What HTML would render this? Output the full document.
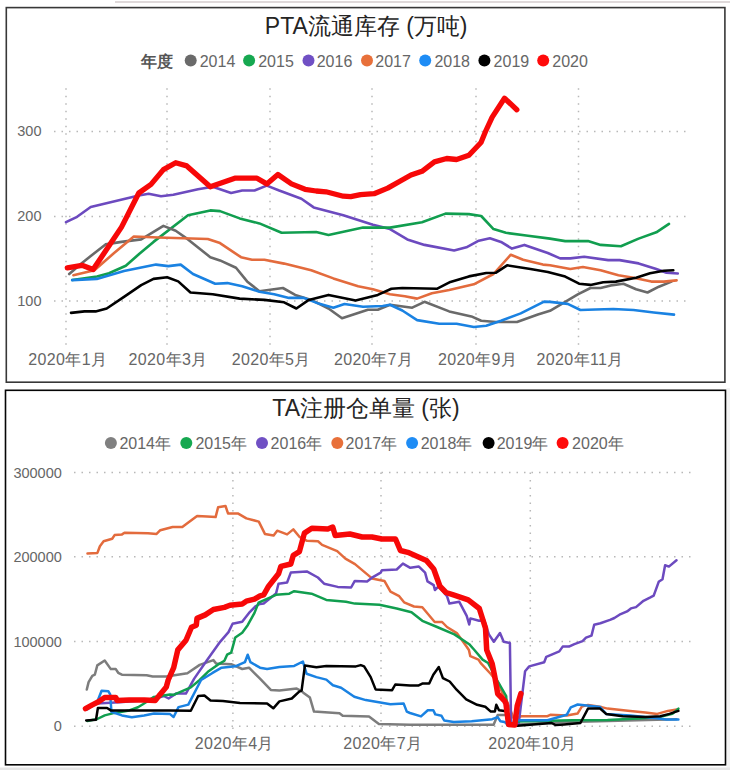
<!DOCTYPE html>
<html><head><meta charset="utf-8"><style>
html,body{margin:0;padding:0;background:#fff;width:730px;height:770px;overflow:hidden}
svg{display:block}
</style></head><body>
<svg width="730" height="770" viewBox="0 0 730 770">
<rect x="115" y="1.2" width="615" height="1.6" fill="#d8d0d2"/>
<rect x="6.3" y="7.6" width="718.6" height="374.6" fill="#fff" stroke="#383838" stroke-width="1.6"/>
<rect x="726.6" y="388" width="3.4" height="382" fill="#f3f3f3"/>
<rect x="5.5" y="390.3" width="720" height="374.5" fill="#fff" stroke="#050505" stroke-width="1.6"/>
<rect x="0" y="767.5" width="730" height="3" fill="#e6e6e6"/>
<line x1="54" y1="131.5" x2="688" y2="131.5" stroke="#b8b8b8" stroke-width="1.5" stroke-dasharray="1.5 6.0"/>
<line x1="54" y1="216.5" x2="688" y2="216.5" stroke="#b8b8b8" stroke-width="1.5" stroke-dasharray="1.5 6.0"/>
<line x1="54" y1="301" x2="688" y2="301" stroke="#b8b8b8" stroke-width="1.5" stroke-dasharray="1.5 6.0"/>
<line x1="66" y1="88.2" x2="66" y2="346" stroke="#b8b8b8" stroke-width="1.5" stroke-dasharray="1.5 6.0"/>
<line x1="167" y1="88.2" x2="167" y2="346" stroke="#b8b8b8" stroke-width="1.5" stroke-dasharray="1.5 6.0"/>
<line x1="270" y1="88.2" x2="270" y2="346" stroke="#b8b8b8" stroke-width="1.5" stroke-dasharray="1.5 6.0"/>
<line x1="372" y1="88.2" x2="372" y2="346" stroke="#b8b8b8" stroke-width="1.5" stroke-dasharray="1.5 6.0"/>
<line x1="476" y1="88.2" x2="476" y2="346" stroke="#b8b8b8" stroke-width="1.5" stroke-dasharray="1.5 6.0"/>
<line x1="578.5" y1="88.2" x2="578.5" y2="346" stroke="#b8b8b8" stroke-width="1.5" stroke-dasharray="1.5 6.0"/>
<text x="41.5" y="136.3" text-anchor="end" font-size="14.5" fill="#666" font-family="'Liberation Sans',sans-serif">300</text>
<text x="41.5" y="221.3" text-anchor="end" font-size="14.5" fill="#666" font-family="'Liberation Sans',sans-serif">200</text>
<text x="41.5" y="305.8" text-anchor="end" font-size="14.5" fill="#666" font-family="'Liberation Sans',sans-serif">100</text>
<text x="67.80000000000001" y="364.8" text-anchor="middle" font-size="16" letter-spacing="0.35" fill="#666" font-family="'Liberation Sans',sans-serif">2020年1月</text>
<text x="168.1" y="364.8" text-anchor="middle" font-size="16" letter-spacing="0.35" fill="#666" font-family="'Liberation Sans',sans-serif">2020年3月</text>
<text x="271.2" y="364.8" text-anchor="middle" font-size="16" letter-spacing="0.35" fill="#666" font-family="'Liberation Sans',sans-serif">2020年5月</text>
<text x="373.59999999999997" y="364.8" text-anchor="middle" font-size="16" letter-spacing="0.35" fill="#666" font-family="'Liberation Sans',sans-serif">2020年7月</text>
<text x="477.59999999999997" y="364.8" text-anchor="middle" font-size="16" letter-spacing="0.35" fill="#666" font-family="'Liberation Sans',sans-serif">2020年9月</text>
<text x="580.1" y="364.8" text-anchor="middle" font-size="16" letter-spacing="0.35" fill="#666" font-family="'Liberation Sans',sans-serif">2020年11月</text>
<text x="264.8" y="33.7" font-size="23" fill="#252423" font-family="'Liberation Sans',sans-serif">PTA流通库存 (万吨)</text>
<text x="140.5" y="67" font-size="16" font-weight="bold" fill="#555" font-family="'Liberation Sans',sans-serif">年度</text>
<circle cx="190.7" cy="60.6" r="6" fill="#6a6a6a"/>
<text x="199.7" y="66.8" font-size="16" fill="#666" font-family="'Liberation Sans',sans-serif">2014</text>
<circle cx="249.1" cy="60.6" r="6" fill="#16a850"/>
<text x="258.2" y="66.8" font-size="16" fill="#666" font-family="'Liberation Sans',sans-serif">2015</text>
<circle cx="308.5" cy="60.6" r="6" fill="#7050c4"/>
<text x="316.7" y="66.8" font-size="16" fill="#666" font-family="'Liberation Sans',sans-serif">2016</text>
<circle cx="367" cy="60.6" r="6" fill="#e8703a"/>
<text x="375.3" y="66.8" font-size="16" fill="#666" font-family="'Liberation Sans',sans-serif">2017</text>
<circle cx="425.2" cy="60.6" r="6" fill="#1e8cf5"/>
<text x="434.4" y="66.8" font-size="16" fill="#666" font-family="'Liberation Sans',sans-serif">2018</text>
<circle cx="484.4" cy="60.6" r="6" fill="#000000"/>
<text x="493.59999999999997" y="66.8" font-size="16" fill="#666" font-family="'Liberation Sans',sans-serif">2019</text>
<circle cx="543.2" cy="60.6" r="6" fill="#ff0a0a"/>
<text x="552.3000000000001" y="66.8" font-size="16" fill="#666" font-family="'Liberation Sans',sans-serif">2020</text>
<g fill="none" stroke-linejoin="round" stroke-linecap="round">
<polyline points="66.0,222.2 77.1,216.8 90.7,207.0 138.8,195.5 148.6,193.7 161.0,196.2 173.3,194.7 198.0,189.3 212.7,186.8 231.1,193.0 242.2,190.5 254.5,190.5 266.8,185.6 279.2,190.5 301.4,198.7 313.7,207.4 343.3,215.3 372.9,224.7 390.0,229.1 407.3,239.4 424.5,244.9 454.1,250.5 466.4,247.3 478.8,240.7 489.9,238.2 501.0,241.9 512.0,248.6 524.4,244.9 547.8,253.0 560.1,258.4 570.3,258.4 584.2,256.8 608.2,260.1 619.6,260.1 638.6,263.4 656.3,269.0 666.5,272.8 677.8,273.5" stroke="#6c4abf" stroke-width="2.6"/>
<polyline points="72.2,280.0 97.0,276.5 109.0,273.2 125.8,265.7 140.0,253.2 153.5,241.9 188.0,215.3 210.3,210.4 220.0,211.1 239.7,218.4 259.4,223.4 281.6,232.8 316.2,232.0 328.5,235.0 363.0,227.6 390.0,227.6 422.0,222.2 445.5,213.6 468.9,214.1 481.2,216.0 493.5,229.1 505.9,232.8 528.0,235.7 550.0,238.6 565.2,241.1 588.0,241.1 600.6,244.9 620.9,246.2 638.6,238.6 656.3,232.3 669.0,223.9" stroke="#119e4f" stroke-width="2.6"/>
<polyline points="69.2,274.0 82.0,262.9 105.5,244.4 121.5,241.9 141.2,239.4 163.4,225.9 175.7,230.8 188.0,239.4 210.3,257.2 220.0,260.4 236.0,267.8 247.1,281.4 259.4,291.2 282.9,288.0 295.2,294.9 311.2,299.9 328.5,308.5 342.0,318.3 367.9,309.7 377.8,309.7 390.0,304.8 412.2,307.7 424.5,301.8 449.2,311.4 471.4,316.4 481.2,320.8 496.0,322.0 517.0,322.0 537.9,314.6 550.0,310.8 565.2,301.9 577.8,294.3 590.5,288.0 600.6,288.0 610.8,285.4 623.4,283.7 636.1,289.2 647.5,292.5 658.9,286.7 671.5,281.6" stroke="#6a6a6a" stroke-width="2.6"/>
<polyline points="73.4,275.2 94.4,270.3 114.1,253.0 133.8,236.5 158.5,237.5 183.1,238.2 207.8,239.0 220.0,243.1 241.0,257.2 252.0,259.7 264.4,259.7 284.1,263.6 311.2,270.3 333.4,278.4 358.1,286.3 372.9,289.3 390.0,294.2 404.8,296.2 417.1,298.6 431.9,293.2 449.2,290.0 473.8,284.3 493.5,274.0 510.8,254.7 523.1,259.7 542.9,264.6 550.0,265.2 570.3,269.0 582.9,267.0 600.6,270.3 618.4,275.3 633.5,277.8 651.3,281.6 663.9,281.6 676.6,280.4" stroke="#e36b3d" stroke-width="2.6"/>
<polyline points="72.2,280.1 96.8,278.9 124.0,271.0 156.0,264.6 168.3,266.1 180.7,264.6 193.0,274.0 215.2,283.8 227.4,283.1 242.2,286.3 259.4,291.7 274.2,294.2 289.0,297.9 303.8,297.9 318.6,303.6 333.4,307.7 344.5,304.0 363.0,306.8 382.7,306.0 390.0,304.8 402.3,310.5 417.1,320.1 439.3,323.8 456.6,323.8 473.8,327.0 486.2,325.7 501.0,320.8 520.7,313.4 544.1,301.6 550.0,301.9 567.7,303.9 580.4,310.0 595.6,309.5 613.3,309.0 633.5,310.0 653.8,312.5 674.0,314.6" stroke="#1a82e2" stroke-width="2.6"/>
<polyline points="71.0,312.9 84.5,311.4 95.6,311.4 106.7,308.5 124.0,296.9 141.2,285.1 153.5,278.9 167.1,277.2 178.2,281.4 190.5,292.5 212.7,294.2 239.7,298.6 264.4,299.9 284.1,302.3 296.4,308.5 308.8,299.9 328.5,294.9 355.6,300.6 377.8,294.9 391.4,288.8 402.3,288.0 436.8,288.8 450.4,281.9 468.9,276.4 486.2,273.0 496.0,272.7 507.1,265.3 530.5,269.0 547.8,272.0 565.2,276.6 579.1,283.7 590.5,284.9 603.2,282.2 615.8,281.6 636.1,277.8 650.0,273.3 663.9,270.8 673.3,270.3" stroke="#000000" stroke-width="2.6"/>
<polyline points="67.3,267.8 82.0,265.3 93.1,269.5 106.7,249.3 121.5,227.1 138.8,193.0 151.0,184.4 163.4,169.6 175.7,162.7 186.8,165.9 210.3,186.8 234.8,178.2 257.0,178.2 266.8,183.9 277.9,174.5 291.5,183.9 305.0,189.3 316.2,191.0 326.0,191.8 343.3,196.2 350.7,196.7 360.5,194.7 374.1,193.7 387.7,188.1 399.9,181.2 411.0,175.0 422.0,171.3 434.4,161.9 446.7,158.5 456.6,159.5 468.9,155.3 481.0,142.5 485.5,131.5 492.2,117.1 504.5,98.2 516.8,109.7" stroke="#f70808" stroke-width="5.3"/>
</g>
<line x1="74" y1="472.6" x2="692" y2="472.6" stroke="#b8b8b8" stroke-width="1.5" stroke-dasharray="1.5 6.0"/>
<line x1="74" y1="556.7" x2="692" y2="556.7" stroke="#b8b8b8" stroke-width="1.5" stroke-dasharray="1.5 6.0"/>
<line x1="74" y1="641.5" x2="692" y2="641.5" stroke="#b8b8b8" stroke-width="1.5" stroke-dasharray="1.5 6.0"/>
<line x1="74" y1="726.3" x2="692" y2="726.3" stroke="#b8b8b8" stroke-width="1.5" stroke-dasharray="1.5 6.0"/>
<line x1="232.9" y1="472.4" x2="232.9" y2="731" stroke="#b8b8b8" stroke-width="1.5" stroke-dasharray="1.5 6.0"/>
<line x1="381" y1="472.4" x2="381" y2="731" stroke="#b8b8b8" stroke-width="1.5" stroke-dasharray="1.5 6.0"/>
<line x1="530.3" y1="472.4" x2="530.3" y2="731" stroke="#b8b8b8" stroke-width="1.5" stroke-dasharray="1.5 6.0"/>
<text x="61.8" y="477.5" text-anchor="end" font-size="14.5" fill="#666" font-family="'Liberation Sans',sans-serif">300000</text>
<text x="61.8" y="561.6" text-anchor="end" font-size="14.5" fill="#666" font-family="'Liberation Sans',sans-serif">200000</text>
<text x="61.8" y="646.5" text-anchor="end" font-size="14.5" fill="#666" font-family="'Liberation Sans',sans-serif">100000</text>
<text x="61.8" y="730.8" text-anchor="end" font-size="14.5" fill="#666" font-family="'Liberation Sans',sans-serif">0</text>
<text x="234.3" y="748.6" text-anchor="middle" font-size="16" letter-spacing="0.35" fill="#666" font-family="'Liberation Sans',sans-serif">2020年4月</text>
<text x="382.8" y="748.6" text-anchor="middle" font-size="16" letter-spacing="0.35" fill="#666" font-family="'Liberation Sans',sans-serif">2020年7月</text>
<text x="532.3" y="748.6" text-anchor="middle" font-size="16" letter-spacing="0.35" fill="#666" font-family="'Liberation Sans',sans-serif">2020年10月</text>
<text x="272.3" y="416.2" font-size="23" fill="#252423" font-family="'Liberation Sans',sans-serif">TA注册仓单量 (张)</text>
<circle cx="110.9" cy="443" r="6" fill="#808080"/>
<text x="119.4" y="448.8" font-size="16" fill="#666" font-family="'Liberation Sans',sans-serif">2014年</text>
<circle cx="186.3" cy="443" r="6" fill="#16a850"/>
<text x="195.39999999999998" y="448.8" font-size="16" fill="#666" font-family="'Liberation Sans',sans-serif">2015年</text>
<circle cx="262" cy="443" r="6" fill="#7050c4"/>
<text x="270.59999999999997" y="448.8" font-size="16" fill="#666" font-family="'Liberation Sans',sans-serif">2016年</text>
<circle cx="337.3" cy="443" r="6" fill="#e8703a"/>
<text x="345.59999999999997" y="448.8" font-size="16" fill="#666" font-family="'Liberation Sans',sans-serif">2017年</text>
<circle cx="412.1" cy="443" r="6" fill="#1e8cf5"/>
<text x="420.7" y="448.8" font-size="16" fill="#666" font-family="'Liberation Sans',sans-serif">2018年</text>
<circle cx="488.6" cy="443" r="6" fill="#000000"/>
<text x="496.7" y="448.8" font-size="16" fill="#666" font-family="'Liberation Sans',sans-serif">2019年</text>
<circle cx="562.6" cy="443" r="6" fill="#ff0a0a"/>
<text x="572.1" y="448.8" font-size="16" fill="#666" font-family="'Liberation Sans',sans-serif">2020年</text>
<g fill="none" stroke-linejoin="round" stroke-linecap="round">
<polyline points="87.5,553.6 97.4,552.9 99.9,546.2 103.6,541.3 112.2,538.8 114.6,535.1 122.0,534.4 124.5,532.7 148.0,533.2 156.6,533.9 160.3,530.2 172.6,527.0 182.3,527.0 187.3,523.3 197.1,515.9 207.0,516.6 215.6,517.1 218.1,507.3 225.5,506.0 228.0,513.4 237.8,513.4 246.4,518.4 258.8,521.6 264.9,533.9 273.6,535.6 277.2,530.7 287.1,534.4 293.3,529.4 299.4,536.8 307.0,540.8 318.0,541.2 322.1,544.9 337.2,551.1 345.4,558.6 355.0,564.1 372.0,578.4 384.4,580.9 390.5,591.7 399.2,596.2 404.1,602.3 414.0,606.5 422.3,607.3 434.7,622.0 442.1,622.0 447.0,627.0 456.8,633.1 466.7,646.7 468.9,650.0 470.3,656.2 478.5,659.6 481.2,663.7 490.8,674.0 499.0,684.2 503.2,695.2 505.9,698.6 513.6,718.2 521.5,716.2 547.5,716.2 550.3,714.8 566.7,715.5 577.7,713.4 581.8,706.6 588.0,704.9 601.6,707.1 607.6,708.6 630.2,710.9 645.3,712.4 657.3,713.9 667.9,710.9 676.9,709.4" stroke="#e36b3d" stroke-width="2.5"/>
<polyline points="86.8,689.5 88.6,682.1 92.3,675.9 94.8,674.7 97.3,665.4 104.7,660.5 110.8,669.1 115.8,669.1 118.2,672.8 121.9,674.7 146.6,675.3 152.7,676.5 166.3,676.5 187.4,673.2 199.7,664.9 213.4,660.1 216.2,663.6 231.2,664.2 242.2,669.0 249.0,667.7 260.0,678.6 270.8,689.9 279.4,690.6 296.7,688.6 301.6,691.1 303.3,692.7 309.9,697.6 314.0,711.6 339.5,713.2 342.7,715.7 369.0,716.5 378.9,723.9 410.0,724.7 493.6,724.7 497.7,715.1 505.9,715.1 508.6,725.6 518.5,724.4 560.0,722.3 676.5,719.2" stroke="#7d7d7d" stroke-width="2.5"/>
<polyline points="87.3,708.3 97.1,703.4 119.3,702.2 151.4,699.7 163.7,696.0 168.6,698.5 176.0,693.6 185.9,693.6 194.2,678.6 206.6,660.8 220.3,641.6 228.5,632.1 232.6,623.8 242.2,621.8 249.0,612.9 255.9,606.0 260.0,604.0 263.7,603.4 276.0,593.6 278.5,583.7 287.1,582.5 290.8,572.6 306.8,571.4 317.9,577.5 324.1,583.7 337.7,586.9 351.1,587.5 354.8,580.9 367.1,581.4 372.0,577.7 380.7,572.7 381.9,570.3 396.7,569.5 402.9,563.6 410.3,567.8 418.9,566.6 425.1,572.7 427.5,581.4 433.7,585.1 434.9,590.0 438.6,586.3 447.0,596.2 449.4,603.6 459.3,601.8 466.7,615.9 469.2,624.5 470.4,618.4 479.0,620.8 484.0,619.6 488.9,634.4 493.8,641.8 500.0,633.1 503.7,641.8 509.9,643.0 511.1,725.1 518.5,725.1 525.1,671.2 529.2,666.4 544.2,662.3 546.3,656.8 559.3,651.4 562.7,646.6 568.9,646.6 574.4,644.1 582.6,641.1 586.0,637.7 591.5,635.6 594.2,624.7 600.4,623.3 610.0,619.9 614.4,618.0 619.5,614.7 627.1,611.4 630.9,608.4 636.0,607.1 643.5,600.8 649.9,597.7 653.7,595.7 658.7,581.8 662.5,579.2 665.1,565.3 668.9,566.6 676.5,560.3" stroke="#6c4abf" stroke-width="2.5"/>
<polyline points="87.4,720.9 97.3,719.0 104.7,715.4 114.5,712.9 129.3,710.4 138.0,707.3 142.9,704.3 154.0,696.9 170.0,694.4 173.6,694.8 190.8,687.4 199.7,680.0 207.9,671.8 217.5,664.9 224.4,660.8 227.1,654.7 231.2,652.6 235.3,637.5 242.2,632.7 247.7,625.2 254.5,612.9 258.6,602.6 276.0,594.8 289.3,593.7 294.2,591.2 311.5,593.7 326.3,599.9 346.0,601.8 354.8,603.6 379.4,604.8 396.7,608.5 411.5,612.2 422.3,620.8 437.1,627.0 454.4,634.4 469.2,644.2 474.4,650.0 482.6,659.6 488.1,663.0 497.0,680.0 506.2,696.0 507.4,725.1 517.4,721.6 572.2,720.3 607.6,719.9 637.7,718.4 660.3,716.9 672.4,713.9 678.4,708.6" stroke="#119e4f" stroke-width="2.5"/>
<polyline points="87.4,709.2 97.3,701.8 101.6,690.7 108.4,691.3 110.2,694.4 111.4,711.7 121.9,715.4 131.8,717.2 144.1,715.4 154.0,713.5 170.0,714.1 173.6,717.0 178.5,707.1 188.3,704.6 201.1,680.0 212.1,673.2 221.6,667.7 235.3,666.3 244.9,662.2 247.7,654.7 250.4,662.2 260.0,667.7 267.1,668.9 279.4,666.9 294.2,665.9 302.9,661.5 306.6,673.8 316.4,677.1 326.3,679.6 332.9,685.3 341.1,687.8 354.3,696.8 365.8,700.1 390.4,704.2 403.6,703.4 406.8,711.6 410.0,713.0 421.0,716.4 427.8,710.3 433.3,710.3 435.3,714.4 441.5,715.8 444.2,720.5 453.8,721.9 471.6,721.2 492.2,719.2 497.7,717.1 500.4,721.2 504.5,721.9 508.6,725.6 517.4,720.3 547.5,720.3 566.7,714.8 570.8,707.3 577.7,704.5 600.1,707.1 606.1,713.9 630.2,715.4 652.8,717.7 666.4,719.5 678.4,719.5" stroke="#1a82e2" stroke-width="2.5"/>
<polyline points="86.2,720.5 96.0,719.7 97.9,708.0 107.1,708.0 110.8,710.4 170.0,710.4 190.8,710.8 198.2,696.0 204.4,695.5 210.5,700.5 222.9,700.9 240.0,702.9 267.1,703.4 273.3,708.3 279.4,701.4 291.8,698.5 299.2,691.6 301.6,690.6 304.9,665.6 316.4,667.2 326.3,666.1 355.9,666.4 360.8,665.1 364.1,666.4 370.7,677.1 375.6,689.4 392.1,690.2 395.3,684.5 410.0,685.6 418.2,685.6 422.3,683.6 429.2,683.6 433.3,674.7 438.8,667.1 442.9,678.1 449.7,681.5 456.6,689.7 466.2,699.3 477.1,704.8 485.3,706.8 490.8,711.6 494.9,711.6 496.3,704.8 499.0,710.3 504.5,711.0 506.2,711.0 506.2,710.8 508.6,725.6 517.4,725.8 551.6,723.0 555.8,725.1 564.0,724.4 580.4,723.0 588.0,708.6 600.1,708.6 606.1,713.9 622.7,716.2 645.3,716.9 660.3,716.2 669.4,713.9 678.4,710.9" stroke="#000000" stroke-width="2.5"/>
<polyline points="85.5,708.6 92.3,704.9 98.5,701.8 104.7,697.5 115.8,697.5 117.0,700.6 129.3,700.0 144.1,700.0 155.2,700.6 160.1,694.4 166.3,687.0 168.2,680.0 173.7,667.7 177.8,649.9 186.0,640.3 191.5,627.3 196.3,625.2 197.0,618.4 205.2,614.9 213.4,609.5 224.4,607.4 229.9,605.3 242.2,604.0 246.3,601.2 254.5,599.2 260.0,595.8 263.7,594.8 268.6,586.2 278.5,573.8 280.9,566.4 290.8,564.0 293.3,555.3 299.4,551.6 304.4,533.1 311.8,528.2 327.8,529.0 332.7,527.0 335.2,535.6 349.9,534.0 362.2,537.0 372.0,537.0 381.9,539.0 395.5,539.0 400.4,550.5 407.8,552.3 426.3,560.4 433.7,569.0 439.9,586.3 446.0,592.5 453.4,594.9 468.2,599.9 479.3,608.5 485.5,628.2 486.7,650.0 492.2,663.7 494.9,677.4 497.7,693.8 504.5,700.7 505.9,703.4 508.6,724.4 514.8,725.1 517.2,705.9 520.9,693.6" stroke="#f70808" stroke-width="5.5"/>
</g>
</svg>
</body></html>
